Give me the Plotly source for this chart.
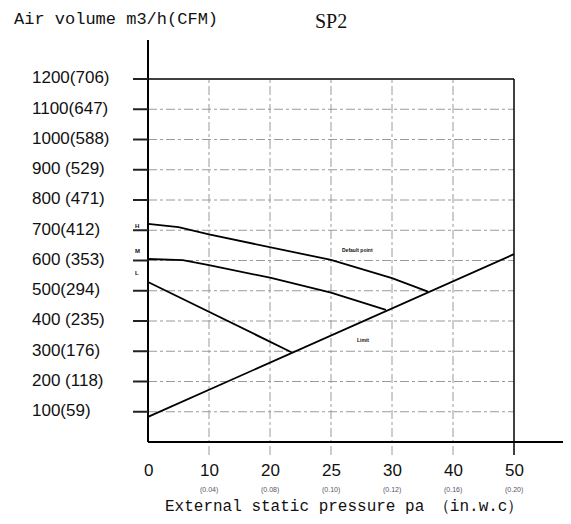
import numpy as np
import plotly.graph_objects as go

# ---------------- data ----------------
x_tick_pa = [0, 10, 20, 25, 30, 40, 50]
x_tick_labels = ["0", "10", "20", "25", "30", "40", "50"]
x_sub_labels = ["", "(0.04)", "(0.08)", "(0.10)", "(0.12)", "(0.16)", "(0.20)"]

y_ticks = [100, 200, 300, 400, 500, 600, 700, 800, 900, 1000, 1100, 1200]
y_labels = ["100(59)", "200 (118)", "300(176)", "400 (235)", "500(294)", "600 (353)",
            "700(412)", "800 (471)", "900 (529)", "1000(588)", "1100(647)", "1200(706)"]

H_pa = [0, 5, 10, 20, 25, 30, 35.9]
H_val = [721, 710, 686, 645, 602, 542, 497]

M_pa = [0, 5.7, 10, 20, 25, 29.5]
M_val = [605, 601, 585, 543, 494, 437]

L_pa = [0, 21.8]
L_val = [529, 296]

sys_pa = [0, 10, 20, 25, 30, 40, 50]
sys_val = [83, 173, 262, 352, 442, 531, 621]

# ------------- scale helpers (reference-pixel based) -------------
PX_PER_IDX = 61.0
X0_PX = 148.0
PX_PER_VAL = 0.3025
Y0_PX = 442.0
W, H = 571, 524
OFF = 8  # page body margin


def xi(pa):
    return np.interp(pa, x_tick_pa, np.arange(len(x_tick_pa)))


def px_x(px):
    return (px - X0_PX) / PX_PER_IDX


def px_y(py):
    return (Y0_PX - py) / PX_PER_VAL


fig = go.Figure()
curve_line = dict(color="black", width=1.8)
for pa, val in [(H_pa, H_val), (M_pa, M_val), (L_pa, L_val), (sys_pa, sys_val)]:
    fig.add_trace(go.Scatter(x=xi(pa), y=val, mode="lines", line=curve_line,
                             hoverinfo="skip", showlegend=False))

shapes = []
grid = dict(color="#9a9a9a", width=1, dash="dashdot")
for v in y_ticks[:-1]:
    shapes.append(dict(type="line", x0=0, x1=6, y0=v, y1=v, line=grid, layer="below"))
for i in range(1, 6):
    shapes.append(dict(type="line", x0=i, x1=i, y0=px_y(455), y1=1200, line=grid, layer="below"))
shapes.append(dict(type="line", x0=0, x1=6, y0=1200, y1=1200, line=dict(color="black", width=1.5)))
shapes.append(dict(type="line", x0=6, x1=6, y0=px_y(455), y1=1200, line=dict(color="black", width=1.5)))
shapes.append(dict(type="line", x0=0, x1=0, y0=0, y1=px_y(40), line=dict(color="black", width=2)))
shapes.append(dict(type="line", x0=0, x1=px_x(565), y0=0, y1=0, line=dict(color="black", width=2)))
for v in y_ticks:
    shapes.append(dict(type="line", x0=px_x(133), x1=0, y0=v, y1=v, line=dict(color="#222", width=2)))

ann = []
lab_font = dict(family="Liberation Sans, Arial", size=17, color="#111")
for v, t in zip(y_ticks, y_labels):
    ann.append(dict(x=px_x(30), y=v + 4, text=t, showarrow=False, xanchor="left",
                    yanchor="middle", font=lab_font))
for i, (t, s) in enumerate(zip(x_tick_labels, x_sub_labels)):
    ann.append(dict(x=i, y=px_y(470), text=t, showarrow=False, xanchor="center",
                    yanchor="middle", font=lab_font))
    if s:
        ann.append(dict(x=i, y=px_y(490), text=s, showarrow=False, xanchor="center",
                        yanchor="middle", font=dict(family="Liberation Sans, Arial", size=7, color="#556")))
ann.append(dict(x=px_x(163), y=px_y(507), text="External static pressure pa （in.w.c）",
                showarrow=False, xanchor="left", yanchor="middle",
                font=dict(family="Liberation Mono, monospace", size=16, color="#111")))
ann.append(dict(x=px_x(13), y=px_y(19), text="Air volume m3/h(CFM)", showarrow=False,
                xanchor="left", yanchor="middle", borderpad=0,
                font=dict(family="Liberation Mono, monospace", size=17, color="#111")))
ann.append(dict(x=px_x(331), y=px_y(21), text="SP2", showarrow=False, xanchor="center",
                yanchor="middle", borderpad=0,
                font=dict(family="Liberation Serif, serif", size=20, color="#111")))
tiny = dict(family="Liberation Sans, Arial", size=6, color="#111")
ann.append(dict(x=px_x(137), y=px_y(226), text="<b>H</b>", showarrow=False, font=tiny))
ann.append(dict(x=px_x(137), y=px_y(251), text="<b>M</b>", showarrow=False, font=tiny))
ann.append(dict(x=px_x(137), y=px_y(273), text="<b>L</b>", showarrow=False, font=tiny))
ann.append(dict(x=px_x(357), y=px_y(250), text="<b>Default point</b>", showarrow=False,
                font=dict(family="Liberation Sans, Arial", size=5, color="#111")))
ann.append(dict(x=px_x(363), y=px_y(340), text="<b>Limit</b>", showarrow=False,
                font=dict(family="Liberation Sans, Arial", size=5, color="#111")))

fig.update_layout(
    width=W, height=H, autosize=False,
    margin=dict(l=0, r=0, t=0, b=0, pad=0),
    paper_bgcolor="white", plot_bgcolor="white",
    xaxis=dict(range=[px_x(OFF), px_x(W + OFF)], visible=False, fixedrange=True),
    yaxis=dict(range=[px_y(H + OFF), px_y(OFF)], visible=False, fixedrange=True),
    shapes=shapes, annotations=ann, showlegend=False,
)

fig.write_html("out.html")
